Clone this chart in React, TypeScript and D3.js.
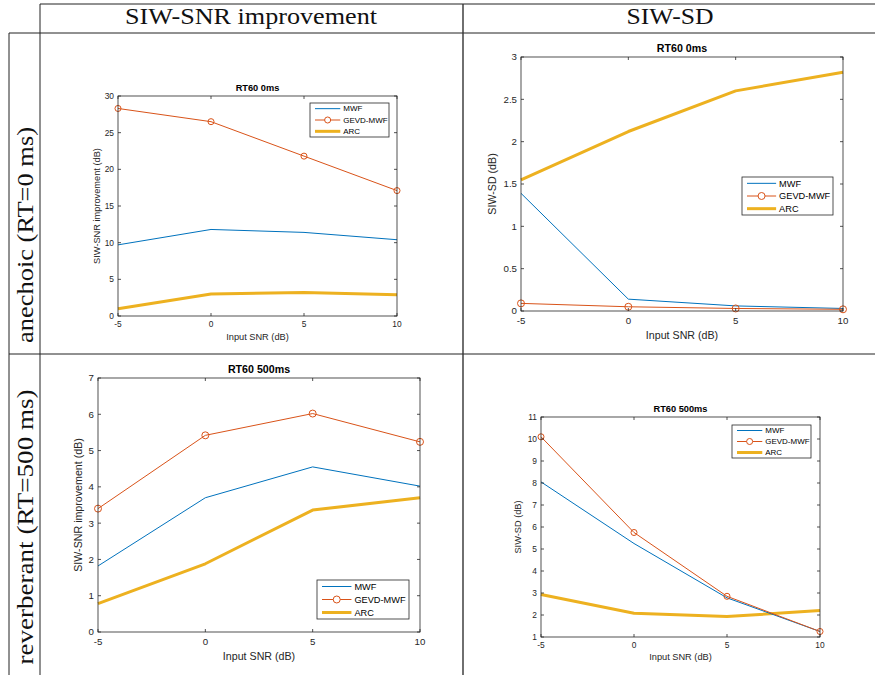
import React from "react";
import * as d3 from "d3";

const snrLevels = [-5, 0, 5, 10];
const seriesNames = ["MWF", "GEVD-MWF", "ARC"];

// SIW-SNR improvement, RT60 0ms
const snrImpAnechoicMWF = [9.7, 11.8, 11.4, 10.4];
const snrImpAnechoicGEVD = [28.3, 26.5, 21.8, 17.1];
const snrImpAnechoicARC = [1.0, 3.0, 3.2, 2.9];

// SIW-SD, RT60 0ms
const sdAnechoicMWF = [1.39, 0.14, 0.06, 0.03];
const sdAnechoicGEVD = [0.09, 0.05, 0.03, 0.02];
const sdAnechoicARC = [1.55, 2.12, 2.6, 2.82];

// SIW-SNR improvement, RT60 500ms
const snrImpReverbMWF = [1.82, 3.7, 4.55, 4.02];
const snrImpReverbGEVD = [3.4, 5.42, 6.02, 5.24];
const snrImpReverbARC = [0.78, 1.88, 3.36, 3.7];

// SIW-SD, RT60 500ms
const sdReverbMWF = [8.05, 5.25, 2.78, 1.25];
const sdReverbGEVD = [10.1, 5.75, 2.85, 1.25];
const sdReverbARC = [2.93, 2.08, 1.93, 2.2];

const yTicksSnrAnechoic = [0, 5, 10, 15, 20, 25, 30];
const yTicksSdAnechoic = [0, 0.5, 1, 1.5, 2, 2.5, 3];
const yTicksSnrReverb = [0, 1, 2, 3, 4, 5, 6, 7];
const yTicksSdReverb = [1, 2, 3, 4, 5, 6, 7, 8, 9, 10, 11];

const colHeaders = ["SIW-SNR improvement", "SIW-SD"];
const rowHeaders = ["anechoic (RT=0 ms)", "reverberant (RT=500 ms)"];

const COLORS = ["#0072BD", "#D95319", "#EDB120"];
const WIDTHS = [1, 1, 3];
const AX = "#262626";

type PanelCfg = {
  title: string;
  ylabel: string;
  series: number[][];
  yDomain: [number, number];
  yTicks: number[];
  box: [number, number, number, number]; // left, top, right, bottom
  fs: number; // tick font size
  legend: [number, number, number, number];
  ylabelX: number;
  xlabelY: number;
};

const panels: PanelCfg[] = [
  {
    title: "RT60 0ms",
    ylabel: "SIW-SNR improvement (dB)",
    series: [snrImpAnechoicMWF, snrImpAnechoicGEVD, snrImpAnechoicARC],
    yDomain: [0, 30],
    yTicks: yTicksSnrAnechoic,
    box: [118, 96, 397, 316],
    fs: 8.4,
    legend: [310, 103, 389, 137],
    ylabelX: 97,
    xlabelY: 337,
  },
  {
    title: "RT60 0ms",
    ylabel: "SIW-SD (dB)",
    series: [sdAnechoicMWF, sdAnechoicGEVD, sdAnechoicARC],
    yDomain: [0, 3],
    yTicks: yTicksSdAnechoic,
    box: [521, 57, 843, 311],
    fs: 9.7,
    legend: [742, 177, 833, 215],
    ylabelX: 492,
    xlabelY: 335,
  },
  {
    title: "RT60 500ms",
    ylabel: "SIW-SNR improvement (dB)",
    series: [snrImpReverbMWF, snrImpReverbGEVD, snrImpReverbARC],
    yDomain: [0, 7],
    yTicks: yTicksSnrReverb,
    box: [98, 378, 420, 632],
    fs: 9.7,
    legend: [317, 580, 409, 619],
    ylabelX: 78,
    xlabelY: 656,
  },
  {
    title: "RT60 500ms",
    ylabel: "SIW-SD (dB)",
    series: [sdReverbMWF, sdReverbGEVD, sdReverbARC],
    yDomain: [1, 11],
    yTicks: yTicksSdReverb,
    box: [541, 417, 820, 637],
    fs: 8.4,
    legend: [732, 425, 811, 458],
    ylabelX: 518,
    xlabelY: 657,
  },
];

const SANS = "'Liberation Sans', Arial, Helvetica, sans-serif";
const SERIF = "'Liberation Serif', 'DejaVu Serif', serif";

function Panel({ cfg }: { cfg: PanelCfg }) {
  const [l, t, r, b] = cfg.box;
  const x = d3.scaleLinear().domain([-5, 10]).range([l, r]);
  const y = d3.scaleLinear().domain(cfg.yDomain).range([b, t]);
  const line = d3
    .line<number>()
    .x((_, i) => x(snrLevels[i]))
    .y((v) => y(v));
  const fs = cfg.fs;
  const lfs = fs * 1.1;
  const tk = 3;
  const [lx0, ly0, lx1, ly1] = cfg.legend;
  const rowH = (ly1 - ly0) / 3;
  const sampleLen = (lx1 - lx0) * 0.32;
  const order = [2, 0, 1];
  return (
    <g>
      {order.map((si) => (
        <path
          key={si}
          d={line(cfg.series[si]) || ""}
          fill="none"
          stroke={COLORS[si]}
          strokeWidth={WIDTHS[si]}
          strokeLinejoin="round"
        />
      ))}
      {cfg.series[1].map((v, i) => (
        <circle
          key={i}
          cx={x(snrLevels[i])}
          cy={y(v)}
          r={fs * 0.36}
          fill="none"
          stroke={COLORS[1]}
          strokeWidth={1}
        />
      ))}
      <rect x={l} y={t} width={r - l} height={b - t} fill="none" stroke={AX} strokeWidth={0.8} />
      {snrLevels.map((v) => (
        <g key={"x" + v}>
          <line x1={x(v)} x2={x(v)} y1={b} y2={b - tk} stroke={AX} strokeWidth={0.8} />
          <line x1={x(v)} x2={x(v)} y1={t} y2={t + tk} stroke={AX} strokeWidth={0.8} />
          <text x={x(v)} y={b + fs * 1.35} fontSize={fs} textAnchor="middle" fill={AX} fontFamily={SANS}>
            {v}
          </text>
        </g>
      ))}
      {cfg.yTicks.map((v) => (
        <g key={"y" + v}>
          <line x1={l} x2={l + tk} y1={y(v)} y2={y(v)} stroke={AX} strokeWidth={0.8} />
          <line x1={r} x2={r - tk} y1={y(v)} y2={y(v)} stroke={AX} strokeWidth={0.8} />
          <text x={l - 4} y={y(v)} dy="0.35em" fontSize={fs} textAnchor="end" fill={AX} fontFamily={SANS}>
            {v}
          </text>
        </g>
      ))}
      <text
        x={(l + r) / 2}
        y={t - 5}
        fontSize={lfs}
        fontWeight="bold"
        textAnchor="middle"
        fill="#000"
        fontFamily={SANS}
      >
        {cfg.title}
      </text>
      <text x={(l + r) / 2} y={cfg.xlabelY} dy="0.35em" fontSize={lfs} textAnchor="middle" fill={AX} fontFamily={SANS}>
        Input SNR (dB)
      </text>
      <text
        transform={`translate(${cfg.ylabelX},${(t + b) / 2}) rotate(-90)`}
        dy="0.35em"
        fontSize={lfs}
        textAnchor="middle"
        fill={AX}
        fontFamily={SANS}
      >
        {cfg.ylabel}
      </text>
      <rect x={lx0} y={ly0} width={lx1 - lx0} height={ly1 - ly0} fill="#fff" stroke={AX} strokeWidth={0.8} />
      {seriesNames.map((name, i) => {
        const cy = ly0 + rowH * (i + 0.5);
        const sx0 = lx0 + 5;
        const sx1 = sx0 + sampleLen;
        return (
          <g key={name}>
            <line x1={sx0} x2={sx1} y1={cy} y2={cy} stroke={COLORS[i]} strokeWidth={WIDTHS[i]} />
            {i === 1 && (
              <circle cx={(sx0 + sx1) / 2} cy={cy} r={fs * 0.36} fill="#fff" stroke={COLORS[1]} strokeWidth={1} />
            )}
            <text x={sx1 + 3} y={cy} dy="0.35em" fontSize={fs * 0.95} fill="#000" fontFamily={SANS}>
              {name}
            </text>
          </g>
        );
      })}
    </g>
  );
}

export default function App() {
  const W = 875;
  const H = 675;
  const lineC = "#222";
  return (
    <svg
      width={W}
      height={H}
      viewBox={`0 0 ${W} ${H}`}
      style={{ position: "absolute", left: 0, top: 0, background: "#fff" }}
    >
      <rect x={0} y={0} width={W} height={H} fill="#fff" />
      {/* table lines */}
      <line x1={40} x2={W} y1={4} y2={4} stroke={lineC} strokeWidth={1} />
      <line x1={9} x2={W} y1={33} y2={33} stroke={lineC} strokeWidth={1} />
      <line x1={9} x2={W} y1={354} y2={354} stroke={lineC} strokeWidth={1} />
      <line x1={40} x2={40} y1={4} y2={H} stroke={lineC} strokeWidth={1} />
      <line x1={9} x2={9} y1={33} y2={H} stroke={lineC} strokeWidth={1} />
      <line x1={463} x2={463} y1={4} y2={H} stroke="#333" strokeWidth={1.4} />
      <text x={251} y={24} fontSize={24} textAnchor="middle" fontFamily={SERIF} fill="#111" textLength={252} lengthAdjust="spacingAndGlyphs">
        {colHeaders[0]}
      </text>
      <text x={670} y={24} fontSize={24} textAnchor="middle" fontFamily={SERIF} fill="#111" textLength={87} lengthAdjust="spacingAndGlyphs">
        {colHeaders[1]}
      </text>
      <text
        transform="translate(33,235) rotate(-90)"
        fontSize={24}
        textAnchor="middle"
        fontFamily={SERIF}
        fill="#111"
        textLength={216}
        lengthAdjust="spacingAndGlyphs"
      >
        {rowHeaders[0]}
      </text>
      <text
        transform="translate(33,527) rotate(-90)"
        fontSize={24}
        textAnchor="middle"
        fontFamily={SERIF}
        fill="#111"
        textLength={275}
        lengthAdjust="spacingAndGlyphs"
      >
        {rowHeaders[1]}
      </text>
      {panels.map((p, i) => (
        <Panel key={i} cfg={p} />
      ))}
    </svg>
  );
}
